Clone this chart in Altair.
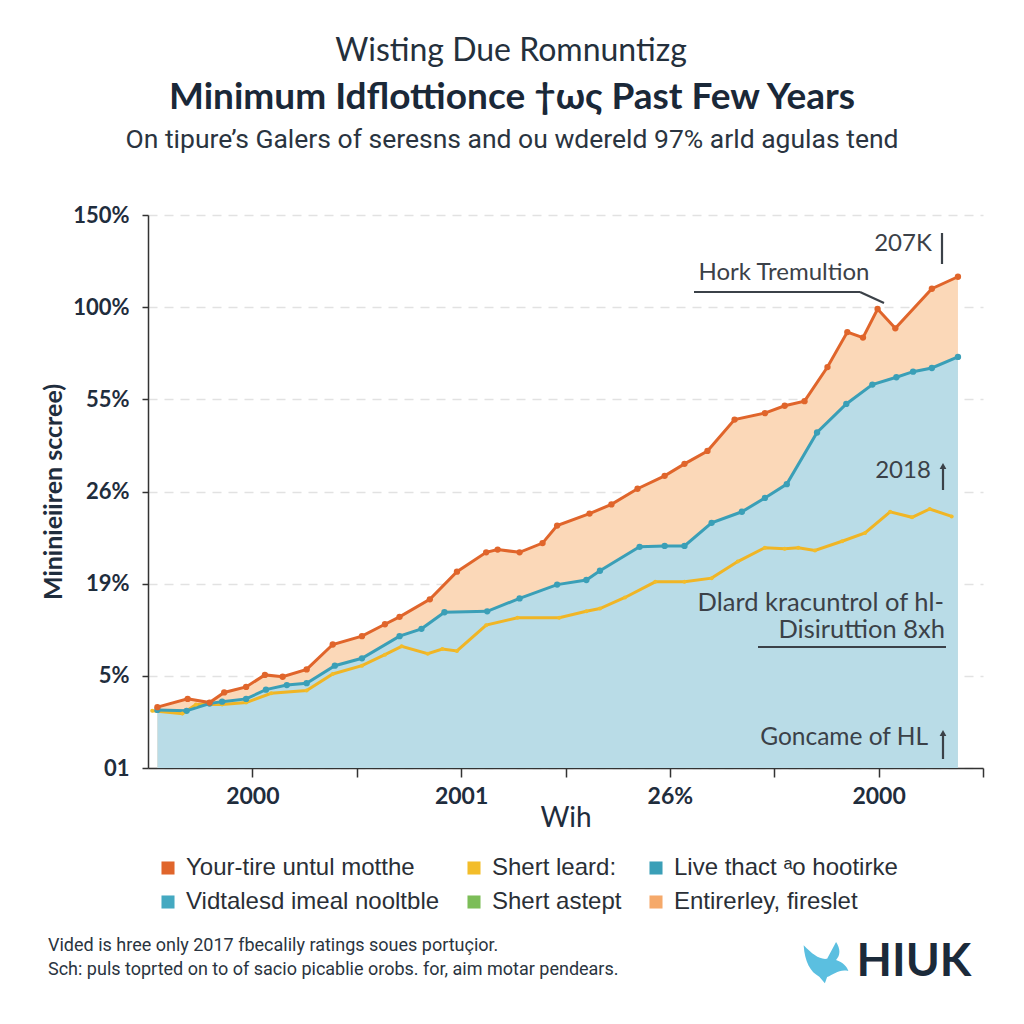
import altair as alt
import pandas as pd

# ---------------- data ----------------
S_ORANGE = "Your-tire untul motthe"
S_YELLOW = "Shert leard:"
S_TEAL = "Live thact ᵃo hootirke"
S_TEAL_FILL = "Vidtalesd imeal nooltble"
S_GREEN = "Shert astept"
S_ORANGE_FILL = "Entirerley, fireslet"

# legend entries (listed column by column: 3 columns x 2 rows)
legend_names = [S_ORANGE, S_TEAL_FILL, S_YELLOW, S_GREEN, S_TEAL, S_ORANGE_FILL]
legend_colors = ["#e0652b", "#44a9c1", "#f3bd2a", "#7cbd58", "#3a9fb7", "#f5a96a"]

line_names = [S_ORANGE, S_YELLOW, S_TEAL]
line_colors = ["#e0652b", "#f0b525", "#3a9fb7"]
fill_names = [S_ORANGE_FILL, S_TEAL_FILL]
fill_colors = ["#fbd8b8", "#b9dce7"]

orange_x = [-9.1, -6.2, -4.1, -2.7, -0.6, 1.2, 2.9, 5.2, 7.7, 10.5, 12.7, 14.1, 17.0, 19.6, 22.4, 23.5,
            25.6, 27.8, 29.2, 32.3, 34.4, 36.9, 39.5, 41.4, 43.6, 46.2, 49.1, 51.0, 52.9, 55.1, 57.0, 58.5,
            59.9, 61.6, 65.1, 67.6]
orange_y = [0.66, 0.75, 0.71, 0.82, 0.88, 1.01, 0.99, 1.07, 1.34, 1.43, 1.56, 1.64, 1.83, 2.13, 2.34, 2.37,
            2.34, 2.44, 2.63, 2.76, 2.86, 3.03, 3.17, 3.30, 3.44, 3.78, 3.85, 3.93, 3.98, 4.35, 4.73, 4.67,
            4.98, 4.77, 5.20, 5.33]

teal_x = [-9.1, -6.3, -4.1, -2.9, -0.6, 1.3, 3.3, 5.2, 7.9, 10.5, 14.1, 16.2, 18.4, 22.5, 25.6, 29.2,
          32.0, 33.3, 37.1, 39.5, 41.4, 44.0, 46.9, 49.1, 51.2, 54.1, 56.9, 59.4, 61.7, 63.3, 65.1, 67.6]
teal_y = [0.63, 0.62, 0.70, 0.72, 0.75, 0.85, 0.90, 0.92, 1.11, 1.19, 1.43, 1.51, 1.69, 1.70, 1.84, 1.99,
          2.04, 2.14, 2.40, 2.41, 2.41, 2.66, 2.78, 2.93, 3.08, 3.64, 3.95, 4.16, 4.24, 4.30, 4.34, 4.46]

yellow_x = [-9.6, -6.7, -5.4, -2.9, -0.6, 1.8, 5.2, 7.7, 10.5, 12.7, 14.3, 16.8, 18.2, 19.6, 22.4, 25.4,
            29.4, 32.0, 33.3, 35.7, 38.6, 41.4, 44.0, 46.5, 49.1, 51.0, 52.3, 53.9, 56.5, 58.7, 61.1, 63.2,
            64.9, 67.0]
yellow_y = [0.62, 0.59, 0.69, 0.69, 0.71, 0.81, 0.84, 1.02, 1.11, 1.23, 1.32, 1.24, 1.29, 1.27, 1.55, 1.63,
            1.63, 1.70, 1.73, 1.85, 2.02, 2.02, 2.06, 2.24, 2.39, 2.38, 2.39, 2.36, 2.46, 2.55, 2.78, 2.72,
            2.81, 2.73]

y_tick_labels = ["01", "5%", "19%", "26%", "55%", "100%", "150%"]
x_tick_values = [0, 10, 20, 30, 40, 50, 60, 70]
x_tick_labels = {0: "2000", 20: "2001", 40: "26%", 60: "2000"}

# ---------------- tables ----------------
def frame(name, xs, ys):
    return pd.DataFrame({"series": name, "x": xs, "y": ys})

lines_df = pd.concat([frame(S_YELLOW, yellow_x, yellow_y),
                      frame(S_TEAL, teal_x, teal_y),
                      frame(S_ORANGE, orange_x, orange_y)], ignore_index=True)
orange_fill_df = frame(S_ORANGE_FILL, orange_x, orange_y)
teal_fill_df = frame(S_TEAL_FILL, teal_x, teal_y)

W, H = 835, 553
X0, Y0 = 148, 215  # page position of the plot origin

xs = alt.Scale(domain=[-10, 70], nice=False, zero=False)
ys = alt.Scale(domain=[0, 6], nice=False, zero=False)

ylabel_expr = "[" + ",".join(f"'{t}'" for t in y_tick_labels) + "][datum.value]"
xlabel_expr = " : ".join(f"datum.value == {k} ? '{v}'" for k, v in x_tick_labels.items()) + " : ''"

x_enc = alt.X("x:Q", scale=xs, axis=alt.Axis(
    values=x_tick_values, labelExpr=xlabel_expr, title="Wih", grid=False,
    labelFont="Lato", labelFontSize=23, labelFontWeight="bold", labelColor="#1f2d3d",
    labelPadding=8, tickSize=9, tickColor="#333", tickWidth=1.5, domainColor="#333", domainWidth=1.5,
    titleFont="Lato", titleFontSize=28, titleFontWeight="normal", titleColor="#1f2d3d", titlePadding=-4))
y_enc = alt.Y("y:Q", scale=ys, stack=None, axis=alt.Axis(
    values=list(range(7)), labelExpr=ylabel_expr, title="Mininieiiren sccree)",
    labelFont="Lato", labelFontSize=22, labelFontWeight="bold", labelColor="#1f2d3d", labelPadding=13,
    tickSize=6, tickColor="#333", tickWidth=1.5, domainColor="#333", domainWidth=1.5,
    grid=True, gridDash=[9, 7], gridColor="#e2e2e2", gridWidth=1.5,
    titleFont="Lato", titleFontSize=25, titleFontWeight="bold", titleColor="#1f2d3d", titlePadding=6))

fill_scale = alt.Scale(domain=fill_names, range=fill_colors)
area_orange = alt.Chart(orange_fill_df).mark_area(fillOpacity=1, interpolate="linear").encode(
    x=x_enc, y=y_enc, color=alt.Color("series:N", scale=fill_scale, legend=None))
area_teal = alt.Chart(teal_fill_df).mark_area(fillOpacity=1, interpolate="linear").encode(
    x="x:Q", y=alt.Y("y:Q", stack=None), color=alt.Color("series:N", scale=fill_scale, legend=None))

lines = alt.Chart(lines_df).mark_line(strokeWidth=3).encode(
    x="x:Q", y="y:Q",
    stroke=alt.Stroke("series:N", scale=alt.Scale(domain=line_names, range=line_colors), legend=None),
)

points = alt.Chart(lines_df).mark_point(filled=True, opacity=1).encode(
    x="x:Q", y="y:Q",
    fill=alt.Fill("series:N", scale=alt.Scale(domain=legend_names, range=legend_colors),
                  legend=alt.Legend(orient="none", legendX=8, legendY=641, columns=3, title=None,
                                    symbolType="square", symbolSize=170, symbolOpacity=1,
                                    labelFont="Liberation Sans", labelFontSize=24, labelColor="#2a2f36",
                                    labelOffset=6, labelLimit=400, columnPadding=22, rowPadding=10,
                                    padding=0)),
    size=alt.condition(alt.datum.series == S_YELLOW, alt.value(16), alt.value(40)),
)

one = alt.Data(values=[{}])

def txt(s, X, Y, size, weight="normal", font="Lato", color="#1f2d3d", align="center"):
    return alt.Chart(one).mark_text(text=s, fontSize=size, fontWeight=weight, font=font, color=color,
                                    align=align, baseline="middle").encode(
        x=alt.value(X - X0), y=alt.value(Y - Y0))

def rule(xa, ya, xb, yb, color="#3b4148", w=2.2):
    return alt.Chart(one).mark_rule(color=color, strokeWidth=w).encode(
        x=alt.value(xa - X0), y=alt.value(ya - Y0), x2=alt.value(xb - X0), y2=alt.value(yb - Y0))

def head(X, Y, color="#3b4148"):
    return alt.Chart(one).mark_point(shape="triangle-up", filled=True, size=45, color=color, opacity=1).encode(
        x=alt.value(X - X0), y=alt.value(Y - Y0))

ann = "#3b4148"
decor = [
    # titles
    txt("Wisting Due Romnuntizg", 511, 51, 32, font="Lato", color="#24303c"),
    txt("Minimum Idflottionce †ως Past Few Years", 512, 98, 37, weight="bold", color="#1a2838"),
    txt("On tipure’s Galers of seresns and ou wdereld 97% arld agulas tend", 512, 140, 26.5,
        font="Roboto", color="#2a3440"),
    # annotations
    txt("207K", 903, 244, 24, color=ann),
    rule(942, 233, 942, 264, ann),
    txt("Hork Tremultion", 784, 273, 24, color=ann),
    rule(694, 292, 860, 292, ann),
    rule(860, 292, 884, 303, ann),
    txt("2018", 903, 471, 24, color=ann),
    rule(943, 466, 943, 490, ann),
    head(943, 466, ann),
    txt("Dlard kracuntrol of hl-", 944, 603, 25.5, color=ann, align="right"),
    txt("Disiruttion 8xh", 945, 630, 25.5, color=ann, align="right"),
    rule(758, 647, 946, 647, ann),
    txt("Goncame of HL", 928, 738, 24.5, color=ann, align="right"),
    rule(943, 733, 943, 759, ann),
    head(943, 733, ann),
    # footnote
    txt("Vided is hree only 2017 fbecalily ratings soues portuçior.", 48, 946, 18, font="Roboto",
        color="#2a3440", align="left"),
    txt("Sch: puls toprted on to of sacio picablie orobs. for, aim motar pendears.", 48, 970, 18,
        font="Roboto", color="#2a3440", align="left"),
    # logo
    alt.Chart(one).mark_point(
        shape="M-1,-0.7 C-0.6,-0.3 -0.3,-0.05 0.05,-0.1 L0.45,-0.85 C0.65,-0.55 0.65,-0.25 0.45,-0.05 "
              "C0.75,0.05 0.95,0.25 1,0.45 C0.6,0.35 0.35,0.6 0.05,0.72 L-0.05,1 L-0.3,0.7 "
              "C-0.7,0.5 -0.95,0.05 -1,-0.7 Z",
        filled=True, size=2000, color="#5bbfe0", opacity=1).encode(
        x=alt.value(826 - X0), y=alt.value(961 - Y0)),
    txt("HIUK", 914, 962, 46, weight="bold", font="Lato", color="#1b2a3a"),
]

chart = alt.layer(area_orange, area_teal, lines, points, *decor).properties(
    width=W, height=H,
    autosize=alt.AutoSizeParams(type="none"),
    padding={"left": X0 - 8, "top": Y0 - 8, "right": 1008 - (X0 - 8) - W, "bottom": 1008 - (Y0 - 8) - H},
    background="white",
).configure_view(stroke=None)

chart.save("out.html", embed_options={"renderer": "svg", "actions": False})
